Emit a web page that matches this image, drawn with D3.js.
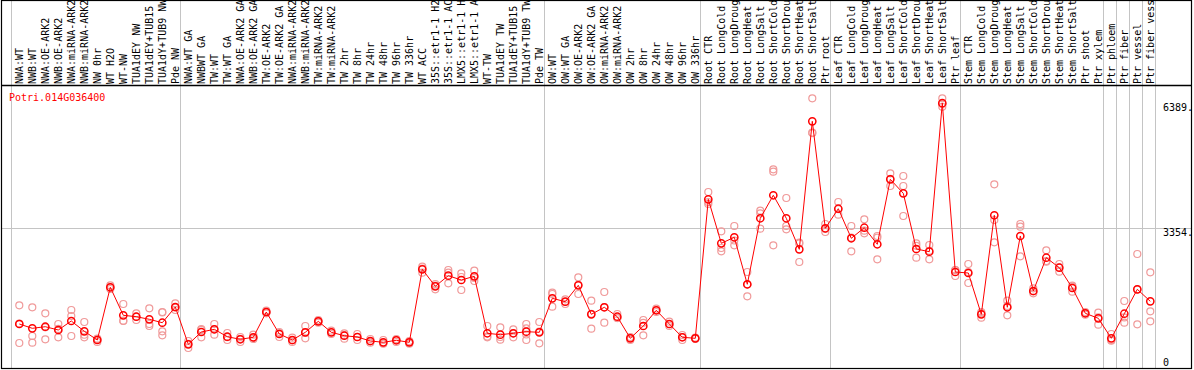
<!DOCTYPE html>
<html>
<head>
<meta charset="utf-8">
<script src="https://cdn.jsdelivr.net/npm/d3@7"></script>
<style>
  body { margin: 0; background: #fff; }
  text { font-family: "DejaVu Sans Mono", monospace; font-size: 10px; }
</style>
</head>
<body>
<div id="chart"></div>
<script>
const width = 1194;
const height = 370;

// ---------------------------
// Data
// ---------------------------
const gene = "Potri.014G036400";

const samples = [
  "NWA:WT", "NWB:WT", "NWA:OE-ARK2", "NWB:OE-ARK2", "NWA:miRNA-ARK2", "NWB:miRNA-ARK2",
  "NW 0hr", "WT H2O", "WT-NW", "TUA1dEY NW", "TUA1dEY+TUB15 NW", "TUA1dY+TUB9 NW", "Pde NW",
  "NWA:WT GA", "NWBWT GA", "TW:WT", "TW:WT GA", "NWA:OE-ARK2 GA", "NWB:OE-ARK2 GA",
  "TW:OE-ARK2", "TW:OE-ARK2 GA", "NWA:miRNA-ARK2 GA", "NWB:miRNA-ARK2 GA", "TW:miRNA-ARK2",
  "TW:miRNA-ARK2 GA", "TW 2hr", "TW 8hr", "TW 24hr", "TW 48hr", "TW 96hr", "TW 336hr",
  "WT ACC", "35S::etr1-1 H2O", "35S::etr1-1 ACC", "LMX5::etr1-1 H2O", "LMX5::etr1-1 ACC",
  "WT-TW", "TUA1dEY TW", "TUA1dEY+TUB15 TW", "TUA1dY+TUB9 TW", "Pde TW",
  "OW:WT", "OW:WT GA", "OW:OE-ARK2", "OW:OE-ARK2 GA", "OW:miRNA-ARK2", "OW:miRNA-ARK2 GA",
  "OW 2hr", "OW 8hr", "OW 24hr", "OW 48hr", "OW 96hr", "OW 336hr",
  "Root CTR", "Root LongCold", "Root LongDrought", "Root LongHeat", "Root LongSalt",
  "Root ShortCold", "Root ShortDrought", "Root ShortHeat", "Root ShortSalt", "Ptr root",
  "Leaf CTR", "Leaf LongCold", "Leaf LongDrought", "Leaf LongHeat", "Leaf LongSalt",
  "Leaf ShortCold", "Leaf ShortDrought", "Leaf ShortHeat", "Leaf ShortSalt", "Ptr leaf",
  "Stem CTR", "Stem LongCold", "Stem LongDrought", "Stem LongHeat", "Stem LongSalt",
  "Stem ShortCold", "Stem ShortDrought", "Stem ShortHeat", "Stem ShortSalt", "Ptr shoot", "Ptr xylem",
  "Ptr phloem", "Ptr fiber", "Ptr vessel", "Ptr fiber vessel"
];

// first sample of each group (a grey separator is drawn before it)
const groupStarts = ["NWA:WT", "NWA:WT GA", "OW:WT", "Root CTR", "Leaf CTR", "Stem CTR",
  "Ptr phloem", "Ptr fiber", "Ptr vessel", "Ptr fiber vessel"];

const means = [
  1021, 916, 955, 875, 1094, 843, 632, 1913, 1232, 1198, 1135, 1052, 1434,
  527, 826, 892, 712, 649, 698, 1312, 778, 632, 819, 1086, 819, 736, 705, 608, 576, 625, 576,
  2350, 1937, 2195, 2090, 2180, 795, 761, 795, 834, 819,
  1645, 1563, 1961, 1256, 1427, 1198, 673, 972, 1354, 1021, 698, 673,
  4051, 2982, 3128, 1986, 3590, 4149, 3590, 2836, 5947, 3347,
  3823, 3104, 3361, 2958, 4537, 4197, 2844, 2778, 6389, 2285,
  2260, 1256, 3663, 1427, 3160, 1823, 2632, 2389, 1896, 1281, 1159,
  673, 1271, 1864, 1572
];

const replicates = [
  [1475, 1030, 559], [1427, 729, 566], [1281, 649, 940], [1021, 698, 900], [1361, 1215, 729],
  [1069, 698, 760], [663, 583, 650], [1961, 1871, 1910], [1507, 1101, 1094], [1281, 1118, 1195],
  [1402, 1021, 972], [1312, 1300, 843, 746], [1524, 1361, 1420],
  [437, 608, 540], [899, 698, 880], [1021, 761, 890], [802, 632, 700], [705, 583, 660],
  [761, 656, 680], [1344, 1281, 1310], [826, 705, 800], [688, 583, 625], [972, 673, 810],
  [1118, 1052, 1090], [858, 778, 820], [795, 663, 750], [778, 632, 705], [656, 566, 600],
  [632, 542, 555], [656, 583, 635], [608, 542, 578], [2413, 2268, 2370], [1993, 1864, 1955],
  [2333, 2268, 2010], [2253, 2163, 1847], [2316, 2139, 2066], [972, 698, 715], [941, 705, 640],
  [892, 698, 795], [1021, 916, 632, 765], [1069, 552, 836],
  [1781, 1750, 1441], [1621, 1507, 1560], [2156, 1750, 1975], [1587, 907, 1270],
  [1798, 1052, 1430], [1264, 1167, 1165], [705, 632, 680], [1118, 746, 1050],
  [1393, 1312, 1355], [1077, 972, 1015], [753, 632, 705], [688, 656, 675],
  [4229, 3986, 3940], [3274, 2868, 2788], [3403, 2933, 3050], [2285, 1694, 1980],
  [3774, 3711, 3337], [4781, 4722, 2933], [4083, 3403, 3322], [2997, 2528, 2980],
  [6506, 5670, 5660], [3451, 3257, 3330],
  [3986, 3677, 3810], [3403, 2788, 3120], [3565, 3225, 3290], [3160, 2593, 3120],
  [4683, 4375, 4550], [4618, 4375, 3646], [2982, 2632, 2920], [2941, 2593, 2800],
  [6506, 6368, 6300], [2333, 2187, 2330],
  [2479, 2017, 2285], [1312, 1174, 1280], [4416, 3548, 3006], [1587, 1232, 1460],
  [3451, 3386, 2666], [1888, 1767, 1815], [2812, 2535, 2550], [2479, 2292, 2395],
  [1952, 1806, 1930], [1312, 1247, 1285], [1295, 1004, 1180],
  [778, 615, 630], [1580, 1052, 1180], [2722, 1013, 1860], [2277, 1329, 1086]
];

const yTicks = [6389, 3354, 0];
const yTickLabels = ["6389.", "3354.", "0"];
const yMax = 6708;

// ---------------------------
// Scales
// ---------------------------
const x = d3.scaleBand()
  .domain(samples)
  .range([11, 1155]);

const cx = d => x(d) + x.bandwidth() / 2 + 1.8;

const y = d3.scaleLinear()
  .domain([0, yMax])
  .range([366, 90]);

const svg = d3.select("#chart")
  .append("svg")
  .attr("width", width)
  .attr("height", height);

svg.append("rect")
  .attr("width", width)
  .attr("height", height)
  .attr("fill", "#fff");

// ---------------------------
// Grid lines
// ---------------------------
svg.append("g")
  .attr("stroke", "#c4c4c4")
  .selectAll("line")
  .data(groupStarts)
  .join("line")
  .attr("x1", d => x(d) + 0.5)
  .attr("x2", d => x(d) + 0.5)
  .attr("y1", 0)
  .attr("y2", 369);

svg.append("line")
  .attr("stroke", "#c4c4c4")
  .attr("x1", x.range()[1] + 0.5)
  .attr("x2", x.range()[1] + 0.5)
  .attr("y1", 0)
  .attr("y2", 369);

svg.append("line")
  .attr("stroke", "#c4c4c4")
  .attr("x1", 1)
  .attr("x2", 1192)
  .attr("y1", Math.round(y(3354)) + 0.5)
  .attr("y2", Math.round(y(3354)) + 0.5);

// ---------------------------
// Header labels
// ---------------------------
svg.append("clipPath")
  .attr("id", "head")
  .append("rect")
  .attr("x", 1).attr("y", 0)
  .attr("width", 1191).attr("height", 85);

svg.append("g")
  .attr("clip-path", "url(#head)")
  .selectAll("text")
  .data(samples)
  .join("text")
  .attr("transform", d => `translate(${cx(d) + 3.6},84) rotate(-90)`)
  .attr("fill", "#000")
  .text(d => d);

// ---------------------------
// Frame
// ---------------------------
svg.append("rect")
  .attr("x", 1.5).attr("y", 0.5)
  .attr("width", 1190).attr("height", 368)
  .attr("fill", "none")
  .attr("stroke", "#000")
  .attr("stroke-width", 1.2);

svg.append("line")
  .attr("x1", 1).attr("x2", 1192)
  .attr("y1", 85.5).attr("y2", 85.5)
  .attr("stroke", "#000")
  .attr("stroke-width", 1.3);

// gene id
svg.append("text")
  .attr("x", 9)
  .attr("y", 101)
  .attr("fill", "#ff0000")
  .text(gene);

// y labels
svg.append("g")
  .selectAll("text")
  .data(yTicks)
  .join("text")
  .attr("x", 1163)
  .attr("y", d => d === 0 ? y(d) : y(d) + 7.5)
  .attr("fill", "#000")
  .text((d, i) => yTickLabels[i]);

// ---------------------------
// Replicates
// ---------------------------
const reps = [];
samples.forEach((s, i) => replicates[i].forEach(v => reps.push({ s, v })));

svg.append("g")
  .attr("fill", "none")
  .attr("stroke", "#f09a9a")
  .attr("stroke-width", 1.2)
  .selectAll("circle")
  .data(reps)
  .join("circle")
  .attr("cx", d => cx(d.s))
  .attr("cy", d => y(d.v))
  .attr("r", 3.5);

// ---------------------------
// Mean line + points
// ---------------------------
const line = d3.line()
  .x((d, i) => cx(samples[i]))
  .y(d => y(d));

svg.append("path")
  .datum(means)
  .attr("fill", "none")
  .attr("stroke", "#ff0000")
  .attr("stroke-width", 1)
  .attr("d", line);

svg.append("g")
  .attr("fill", "none")
  .attr("stroke", "#ff0000")
  .attr("stroke-width", 1.5)
  .selectAll("circle")
  .data(means)
  .join("circle")
  .attr("cx", (d, i) => cx(samples[i]))
  .attr("cy", d => y(d))
  .attr("r", 3.6);
</script>
</body>
</html>
